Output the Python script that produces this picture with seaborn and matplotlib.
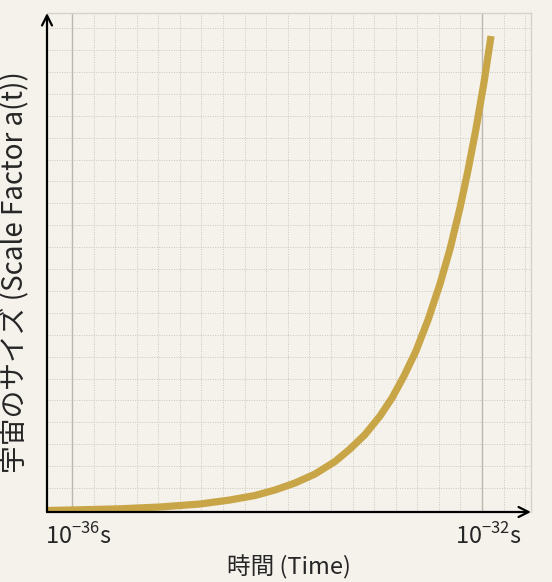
import numpy as np
import pandas as pd
import matplotlib
matplotlib.use("Agg")
import matplotlib.pyplot as plt
import matplotlib.transforms as mtrans
import seaborn as sns

# time axis (0 = 10^-36 s, 4 = 10^-32 s) and scale factor
time_pos = [-0.244, 0.078, 0.468, 0.859, 1.249, 1.541, 1.785, 1.980, 2.176,
            2.371, 2.566, 2.712, 2.859, 3.005, 3.122, 3.239, 3.356, 3.473,
            3.590, 3.688, 3.785, 3.863, 3.941, 4.020, 4.088]
scale_factor = [0.015, 0.022, 0.032, 0.05, 0.08, 0.12, 0.165, 0.22, 0.29,
                0.38, 0.505, 0.63, 0.775, 0.96, 1.14, 1.36, 1.61, 1.92,
                2.28, 2.63, 3.04, 3.415, 3.83, 4.30, 4.76]
tick_pos = [0, 4]
tick_labels = ["10$^{-36}$s", "10$^{-32}$s"]

BG = "#f5f2ec"
GOLD = "#c8a648"

sns.set_theme(style="white")
plt.rcParams["font.family"] = ["Noto Sans CJK JP", "DejaVu Sans"]
plt.rcParams["mathtext.fontset"] = "custom"
plt.rcParams["mathtext.rm"] = "Noto Sans CJK JP"

fig = plt.figure(figsize=(5.52, 5.82), dpi=100, facecolor=BG)
ax = fig.add_axes([47 / 552, 1 - 512 / 582, 484 / 552, 499 / 582])
ax.set_facecolor(BG)

xmin, xmax = -0.244, 4.478
ymin, ymax = 0.0, 4.99
ax.set_xlim(xmin, xmax)
ax.set_ylim(ymin, ymax)

# graph-paper grid
dot = dict(color="#ccc7bd", lw=0.7, ls=(0, (1, 1.5)), zorder=0)
for gx in np.arange(0, xmax, 4 / 19):
    ax.axvline(gx, **dot)
for gy in np.arange(0.24, ymax - 0.1, 0.219):
    ax.axhline(gy, **dot)
for tx in tick_pos:
    ax.axvline(tx, color="#bcb7ae", lw=1.0, zorder=0)

df = pd.DataFrame({"t": time_pos, "a": scale_factor})
sns.lineplot(data=df, x="t", y="a", ax=ax, color=GOLD, lw=5.2,
             solid_capstyle="butt", solid_joinstyle="round", sort=True, zorder=3)

for side in ["left", "bottom"]:
    ax.spines[side].set_visible(False)
for side in ["top", "right"]:
    ax.spines[side].set_color("#d6d2c9")
    ax.spines[side].set_linewidth(1.0)

# axis arrows
arrow = dict(arrowstyle="->", color="black", lw=1.6, mutation_scale=18,
             shrinkA=0, shrinkB=0)
ax.annotate("", xy=(0, 1), xytext=(0, 0), xycoords="axes fraction",
            arrowprops=arrow, zorder=5)
ax.annotate("", xy=(1, 0), xytext=(0, 0), xycoords="axes fraction",
            arrowprops=arrow, zorder=5)

ax.set_xticks(tick_pos)
ax.set_xticklabels(tick_labels, fontsize=17)
ax.tick_params(axis="x", length=0, pad=8)
ax.set_yticks([])
shift = mtrans.ScaledTranslation(6 / 100, 0, fig.dpi_scale_trans)
for lab in ax.get_xticklabels():
    lab.set_transform(lab.get_transform() + shift)

ax.set_xlabel("時間 (Time)", fontsize=17, labelpad=4)
ax.set_ylabel("宇宙のサイズ (Scale Factor a(t))", fontsize=20)
ax.yaxis.set_label_coords(-17 / 484, (512 - 272) / 499)

fig.savefig("out.png", dpi=100, facecolor=BG)
